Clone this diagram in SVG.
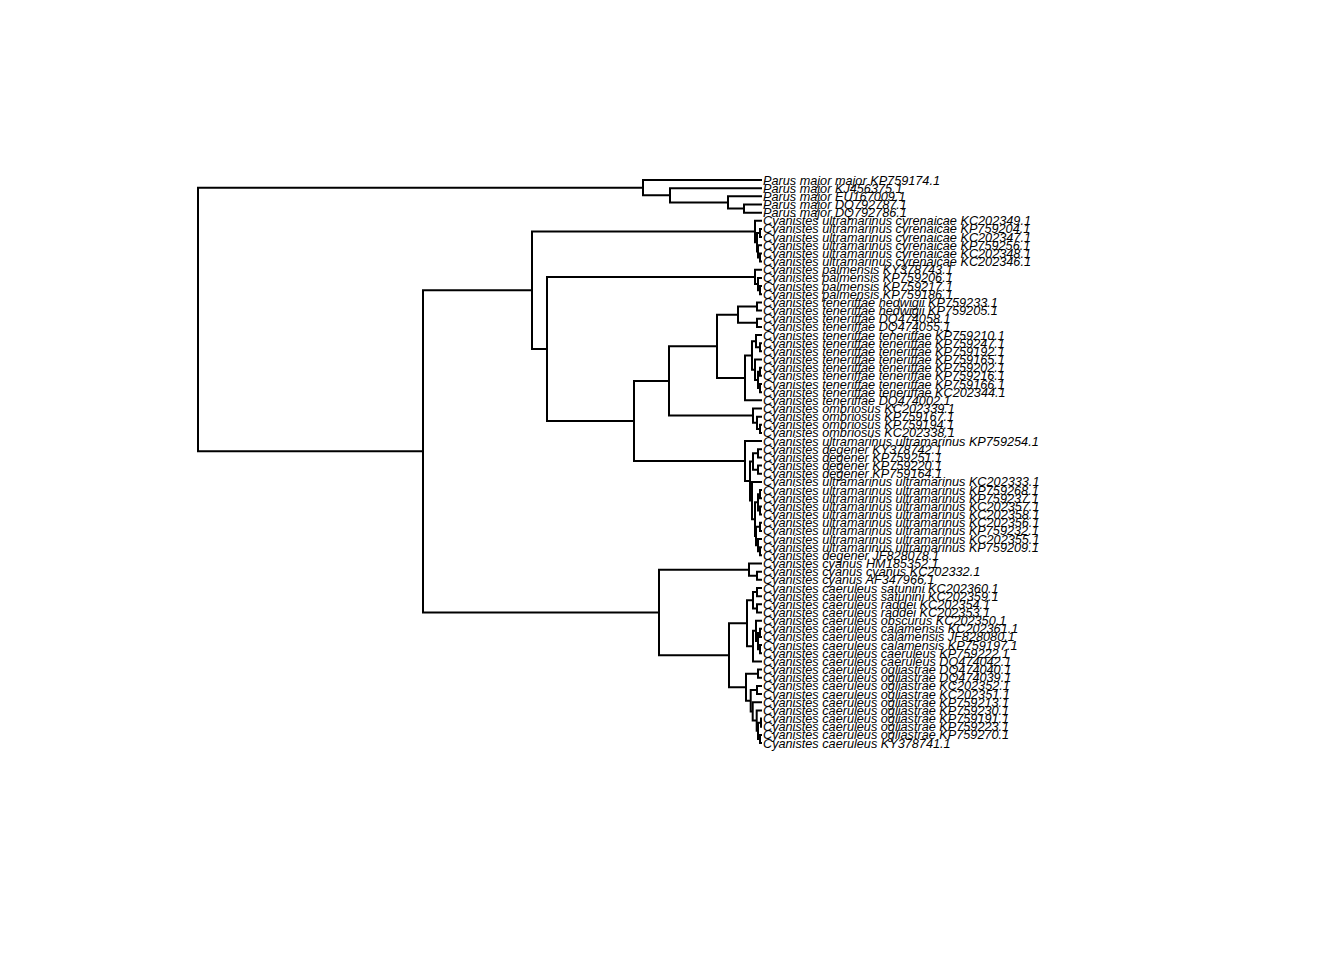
<svg xmlns="http://www.w3.org/2000/svg" width="1344" height="960" viewBox="0 0 1344 960">
<style>
.b{fill:none;stroke:#000;stroke-width:2;stroke-linejoin:miter}
text{font-family:"Liberation Sans",Arial,sans-serif;font-style:italic;font-size:12.7px;fill:#000}
</style>
<rect width="1344" height="960" fill="#fff"/>
<g id="connectors">
<path class="b" d="M643 187.65H198V451.33H423"/>
<path class="b" d="M762 180H643V195.3H670"/>
<path class="b" d="M762 188.16H670V202.44H728"/>
<path class="b" d="M762 196.32H728V208.56H744"/>
<path class="b" d="M762 204.48H744V212.64H762"/>
<path class="b" d="M532 290.24H423V612.42H659"/>
<path class="b" d="M755 231.51H532V348.96H547"/>
<path class="b" d="M762 220.8H755V242.22H757"/>
<path class="b" d="M760 233.04H757V251.4H758"/>
<path class="b" d="M762 228.96H760V237.12H762"/>
<path class="b" d="M762 245.28H758V257.52H760"/>
<path class="b" d="M762 253.44H760V261.6H762"/>
<path class="b" d="M755 276.9H547V421.01H634"/>
<path class="b" d="M762 269.76H755V284.04H758"/>
<path class="b" d="M762 277.92H758V290.16H760"/>
<path class="b" d="M762 286.08H760V294.24H762"/>
<path class="b" d="M669 380.94H634V461.08H745"/>
<path class="b" d="M717 346.26H669V415.62H753"/>
<path class="b" d="M738 314.64H717V377.88H745"/>
<path class="b" d="M757 306.48H738V322.8H757"/>
<path class="b" d="M762 302.4H757V310.56H762"/>
<path class="b" d="M762 318.72H757V326.88H762"/>
<path class="b" d="M752 355.44H745V400.32H762"/>
<path class="b" d="M756 341.16H752V369.72H755"/>
<path class="b" d="M762 335.04H756V347.28H760"/>
<path class="b" d="M762 343.2H760V351.36H762"/>
<path class="b" d="M762 359.52H755V379.92H758"/>
<path class="b" d="M760 371.76H758V388.08H760"/>
<path class="b" d="M762 367.68H760V375.84H762"/>
<path class="b" d="M762 384H760V392.16H762"/>
<path class="b" d="M762 408.48H753V422.76H757"/>
<path class="b" d="M762 416.64H757V428.88H760"/>
<path class="b" d="M762 424.8H760V432.96H762"/>
<path class="b" d="M762 441.12H745V481.03H750"/>
<path class="b" d="M753 461.52H750V500.54H752"/>
<path class="b" d="M758 453.36H753V469.68H758"/>
<path class="b" d="M762 449.28H758V457.44H762"/>
<path class="b" d="M762 465.6H758V473.76H762"/>
<path class="b" d="M762 481.92H752V519.15H755"/>
<path class="b" d="M758 502.32H755V535.98H756"/>
<path class="b" d="M760 494.16H758V510.48H760"/>
<path class="b" d="M762 490.08H760V498.24H762"/>
<path class="b" d="M762 506.4H760V514.56H762"/>
<path class="b" d="M760 526.8H756V545.16H758"/>
<path class="b" d="M762 522.72H760V530.88H762"/>
<path class="b" d="M762 539.04H758V551.28H760"/>
<path class="b" d="M762 547.2H760V555.36H762"/>
<path class="b" d="M749 569.64H659V655.2H729"/>
<path class="b" d="M762 563.52H749V575.76H757"/>
<path class="b" d="M762 571.68H757V579.84H762"/>
<path class="b" d="M747 623.19H729V687.2H746"/>
<path class="b" d="M753 600.24H747V646.14H753"/>
<path class="b" d="M757 592.08H753V608.4H757"/>
<path class="b" d="M762 588H757V596.16H762"/>
<path class="b" d="M762 604.32H757V612.48H762"/>
<path class="b" d="M756 630.84H753V661.44H762"/>
<path class="b" d="M762 620.64H756V641.04H758"/>
<path class="b" d="M760 632.88H758V649.2H760"/>
<path class="b" d="M762 628.8H760V636.96H762"/>
<path class="b" d="M762 645.12H760V653.28H762"/>
<path class="b" d="M758 673.68H746V700.71H750.7"/>
<path class="b" d="M762 669.6H758V677.76H762"/>
<path class="b" d="M757 690H750.7V711.42H752.7"/>
<path class="b" d="M762 685.92H757V694.08H762"/>
<path class="b" d="M762 702.24H752.7V720.6H756.7"/>
<path class="b" d="M762 710.4H756.7V730.8H758"/>
<path class="b" d="M761 722.64H758V738.96H760"/>
<path class="b" d="M762 718.56H761V726.72H762"/>
<path class="b" d="M762 734.88H760V743.04H762"/>
</g>
<g id="t1"><text x="763" y="184.5">Parus major major KP759174.1</text></g>
<g id="t2"><text x="763" y="192.66">Parus major KJ456375.1</text></g>
<g id="t3"><text x="763" y="200.82">Parus major EU167009.1</text></g>
<g id="t4"><text x="763" y="208.98">Parus major DQ792787.1</text></g>
<g id="t5"><text x="763" y="217.14">Parus major DQ792786.1</text></g>
<g id="t6"><text x="763" y="225.3">Cyanistes ultramarinus cyrenaicae KC202349.1</text></g>
<g id="t7"><text x="763" y="233.46">Cyanistes ultramarinus cyrenaicae KP759204.1</text></g>
<g id="t8"><text x="763" y="241.62">Cyanistes ultramarinus cyrenaicae KC202347.1</text></g>
<g id="t9"><text x="763" y="249.78">Cyanistes ultramarinus cyrenaicae KP759256.1</text></g>
<g id="t10"><text x="763" y="257.94">Cyanistes ultramarinus cyrenaicae KC202348.1</text></g>
<g id="t11"><text x="763" y="266.1">Cyanistes ultramarinus cyrenaicae KC202346.1</text></g>
<g id="t12"><text x="763" y="274.26">Cyanistes palmensis KY378743.1</text></g>
<g id="t13"><text x="763" y="282.42">Cyanistes palmensis KP759206.1</text></g>
<g id="t14"><text x="763" y="290.58">Cyanistes palmensis KP759217.1</text></g>
<g id="t15"><text x="763" y="298.74">Cyanistes palmensis KP759186.1</text></g>
<g id="t16"><text x="763" y="306.9">Cyanistes teneriffae hedwigii KP759233.1</text></g>
<g id="t17"><text x="763" y="315.06">Cyanistes teneriffae hedwigii KP759205.1</text></g>
<g id="t18"><text x="763" y="323.22">Cyanistes teneriffae DQ474058.1</text></g>
<g id="t19"><text x="763" y="331.38">Cyanistes teneriffae DQ474055.1</text></g>
<g id="t20"><text x="763" y="339.54">Cyanistes teneriffae teneriffae KP759210.1</text></g>
<g id="t21"><text x="763" y="347.7">Cyanistes teneriffae teneriffae KP759247.1</text></g>
<g id="t22"><text x="763" y="355.86">Cyanistes teneriffae teneriffae KP759192.1</text></g>
<g id="t23"><text x="763" y="364.02">Cyanistes teneriffae teneriffae KP759165.1</text></g>
<g id="t24"><text x="763" y="372.18">Cyanistes teneriffae teneriffae KP759202.1</text></g>
<g id="t25"><text x="763" y="380.34">Cyanistes teneriffae teneriffae KP759216.1</text></g>
<g id="t26"><text x="763" y="388.5">Cyanistes teneriffae teneriffae KP759166.1</text></g>
<g id="t27"><text x="763" y="396.66">Cyanistes teneriffae teneriffae KC202344.1</text></g>
<g id="t28"><text x="763" y="404.82">Cyanistes teneriffae DQ474002.1</text></g>
<g id="t29"><text x="763" y="412.98">Cyanistes ombriosus KC202339.1</text></g>
<g id="t30"><text x="763" y="421.14">Cyanistes ombriosus KP759167.1</text></g>
<g id="t31"><text x="763" y="429.3">Cyanistes ombriosus KP759194.1</text></g>
<g id="t32"><text x="763" y="437.46">Cyanistes ombriosus KC202338.1</text></g>
<g id="t33"><text x="763" y="445.62">Cyanistes ultramarinus ultramarinus KP759254.1</text></g>
<g id="t34"><text x="763" y="453.78">Cyanistes degener KY378742.1</text></g>
<g id="t35"><text x="763" y="461.94">Cyanistes degener KP759251.1</text></g>
<g id="t36"><text x="763" y="470.1">Cyanistes degener KP759220.1</text></g>
<g id="t37"><text x="763" y="478.26">Cyanistes degener KP759164.1</text></g>
<g id="t38"><text x="763" y="486.42">Cyanistes ultramarinus ultramarinus KC202333.1</text></g>
<g id="t39"><text x="763" y="494.58">Cyanistes ultramarinus ultramarinus KP759268.1</text></g>
<g id="t40"><text x="763" y="502.74">Cyanistes ultramarinus ultramarinus KP759237.1</text></g>
<g id="t41"><text x="763" y="510.9">Cyanistes ultramarinus ultramarinus KC202357.1</text></g>
<g id="t42"><text x="763" y="519.06">Cyanistes ultramarinus ultramarinus KC202358.1</text></g>
<g id="t43"><text x="763" y="527.22">Cyanistes ultramarinus ultramarinus KC202356.1</text></g>
<g id="t44"><text x="763" y="535.38">Cyanistes ultramarinus ultramarinus KP759232.1</text></g>
<g id="t45"><text x="763" y="543.54">Cyanistes ultramarinus ultramarinus KC202355.1</text></g>
<g id="t46"><text x="763" y="551.7">Cyanistes ultramarinus ultramarinus KP759209.1</text></g>
<g id="t47"><text x="763" y="559.86">Cyanistes degener JF828078.1</text></g>
<g id="t48"><text x="763" y="568.02">Cyanistes cyanus HM185352.1</text></g>
<g id="t49"><text x="763" y="576.18">Cyanistes cyanus cyanus KC202332.1</text></g>
<g id="t50"><text x="763" y="584.34">Cyanistes cyanus AF347966.1</text></g>
<g id="t51"><text x="763" y="592.5">Cyanistes caeruleus satunini KC202360.1</text></g>
<g id="t52"><text x="763" y="600.66">Cyanistes caeruleus satunini KC202359.1</text></g>
<g id="t53"><text x="763" y="608.82">Cyanistes caeruleus raddei KC202354.1</text></g>
<g id="t54"><text x="763" y="616.98">Cyanistes caeruleus raddei KC202353.1</text></g>
<g id="t55"><text x="763" y="625.14">Cyanistes caeruleus obscurus KC202350.1</text></g>
<g id="t56"><text x="763" y="633.3">Cyanistes caeruleus calamensis KC202361.1</text></g>
<g id="t57"><text x="763" y="641.46">Cyanistes caeruleus calamensis JF828080.1</text></g>
<g id="t58"><text x="763" y="649.62">Cyanistes caeruleus calamensis KP759197.1</text></g>
<g id="t59"><text x="763" y="657.78">Cyanistes caeruleus caeruleus KP759222.1</text></g>
<g id="t60"><text x="763" y="665.94">Cyanistes caeruleus caeruleus DQ474042.1</text></g>
<g id="t61"><text x="763" y="674.1">Cyanistes caeruleus ogliastrae DQ474040.1</text></g>
<g id="t62"><text x="763" y="682.26">Cyanistes caeruleus ogliastrae DQ474039.1</text></g>
<g id="t63"><text x="763" y="690.42">Cyanistes caeruleus ogliastrae KC202352.1</text></g>
<g id="t64"><text x="763" y="698.58">Cyanistes caeruleus ogliastrae KC202351.1</text></g>
<g id="t65"><text x="763" y="706.74">Cyanistes caeruleus ogliastrae KP759213.1</text></g>
<g id="t66"><text x="763" y="714.9">Cyanistes caeruleus ogliastrae KP759230.1</text></g>
<g id="t67"><text x="763" y="723.06">Cyanistes caeruleus ogliastrae KP759191.1</text></g>
<g id="t68"><text x="763" y="731.22">Cyanistes caeruleus ogliastrae KP759223.1</text></g>
<g id="t69"><text x="763" y="739.38">Cyanistes caeruleus ogliastrae KP759270.1</text></g>
<g id="t70"><text x="763" y="747.54">Cyanistes caeruleus KY378741.1</text></g>
</svg>
